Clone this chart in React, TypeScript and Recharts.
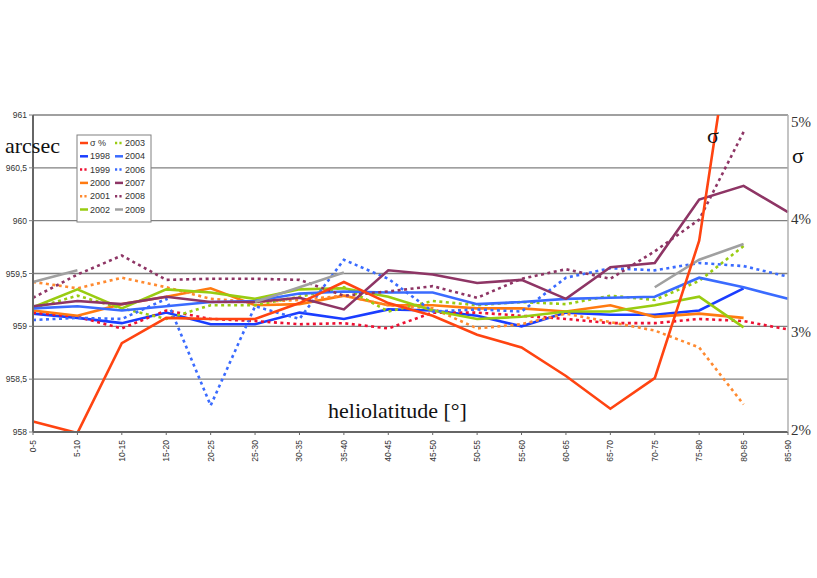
import React from 'react';
import { LineChart, Line, XAxis, YAxis, CartesianGrid } from 'recharts';

const categories = ['0-5', '5-10', '10-15', '15-20', '20-25', '25-30', '30-35', '35-40', '40-45', '45-50', '50-55', '55-60', '60-65', '65-70', '70-75', '75-80', '80-85', '85-90'];

const leftTicks = [958, 958.5, 959, 959.5, 960, 960.5, 961];
const rightTicks = [2, 3, 4, 5];

const sigmaPct = [2.10, 1.99, 2.84, 3.08, 3.07, 3.07, 3.22, 3.42, 3.22, 3.10, 2.92, 2.80, 2.53, 2.22, 2.51, 3.81, 6.6, null];
const y1998 = [959.12, 959.08, 959.03, 959.13, 959.02, 959.02, 959.13, 959.07, 959.16, 959.15, 959.10, 959.00, 959.13, 959.11, 959.11, 959.15, 959.36, null];
const y1999 = [959.13, 959.09, 958.98, 959.15, 959.07, 959.05, 959.02, 959.03, 958.98, 959.13, 959.13, 959.10, 959.07, 959.03, 959.03, 959.07, 959.05, 958.97];
const y2000 = [959.15, 959.10, 959.21, 959.28, 959.36, 959.20, 959.21, 959.29, 959.20, 959.20, 959.17, 959.17, 959.14, 959.20, 959.09, 959.12, 959.08, null];
const y2001 = [959.42, 959.36, 959.46, 959.37, 959.26, 959.23, 959.25, 959.29, 959.20, 959.17, 958.98, 959.02, 959.12, 959.04, 958.96, 958.80, 958.26, null];
const y2002 = [959.18, 959.35, 959.17, 959.35, 959.32, 959.26, 959.35, 959.36, 959.28, 959.15, 959.07, 959.09, 959.14, 959.14, 959.20, 959.28, 958.99, null];
const y2003 = [959.17, 959.29, 959.17, 959.07, 959.20, 959.20, 959.28, 959.37, 959.14, 959.24, 959.20, 959.23, 959.21, 959.29, 959.25, 959.43, 959.76, null];
const y2004 = [959.17, 959.19, 959.15, 959.19, 959.23, 959.24, 959.31, 959.33, 959.32, 959.32, 959.21, 959.23, 959.26, 959.27, 959.28, 959.46, 959.37, 959.26];
const y2006 = [959.06, 959.08, 959.07, 959.26, 958.25, 959.19, 959.07, 959.63, 959.45, 959.14, 959.16, 959.14, 959.46, 959.55, 959.53, 959.60, 959.57, 959.47];
const y2007 = [959.19, 959.24, 959.21, 959.28, 959.23, 959.23, 959.27, 959.16, 959.53, 959.49, 959.41, 959.44, 959.26, 959.56, 959.60, 960.20, 960.33, 960.08];
const y2008 = [959.27, 959.49, 959.67, 959.44, 959.45, 959.45, 959.44, 959.29, 959.33, 959.38, 959.27, 959.45, 959.54, 959.45, 959.71, 960.01, 960.84, null];
const y2009 = [959.42, 959.53, null, null, null, 959.23, 959.37, 959.51, null, null, null, null, null, null, 959.37, 959.63, 959.78, null];

type SeriesDef = { key: string; name: string; values: (number | null)[]; color: string; dotted: boolean; axis: string };

const seriesDefs: SeriesDef[] = [
  { key: 'sigma', name: 'σ %', values: sigmaPct, color: '#ff4411', dotted: false, axis: 'right' },
  { key: 's1998', name: '1998', values: y1998, color: '#1a3dff', dotted: false, axis: 'left' },
  { key: 's1999', name: '1999', values: y1999, color: '#ee1133', dotted: true, axis: 'left' },
  { key: 's2000', name: '2000', values: y2000, color: '#ff7a10', dotted: false, axis: 'left' },
  { key: 's2001', name: '2001', values: y2001, color: '#ff8a30', dotted: true, axis: 'left' },
  { key: 's2002', name: '2002', values: y2002, color: '#99cc11', dotted: false, axis: 'left' },
  { key: 's2003', name: '2003', values: y2003, color: '#99cc11', dotted: true, axis: 'left' },
  { key: 's2004', name: '2004', values: y2004, color: '#3a6bff', dotted: false, axis: 'left' },
  { key: 's2006', name: '2006', values: y2006, color: '#3a6bff', dotted: true, axis: 'left' },
  { key: 's2007', name: '2007', values: y2007, color: '#8e3565', dotted: false, axis: 'left' },
  { key: 's2008', name: '2008', values: y2008, color: '#8e3565', dotted: true, axis: 'left' },
  { key: 's2009', name: '2009', values: y2009, color: '#a0a0a0', dotted: false, axis: 'left' },
];

const data = categories.map((c, i) => {
  const row: any = { cat: c };
  seriesDefs.forEach((s) => {
    row[s.key] = s.values[i];
  });
  return row;
});

const sans = 'Liberation Sans, Arial, sans-serif';
const serif = 'Liberation Serif, Times New Roman, serif';

const XTick = (props: any) => {
  const { x, y, payload } = props;
  return (
    <text
      x={x}
      y={y}
      transform={`rotate(-90 ${x} ${y})`}
      textAnchor="end"
      dominantBaseline="central"
      fontSize={8.5}
      fontFamily={sans}
      fill="#333"
    >
      {payload.value}
    </text>
  );
};

const RightTick = (props: any) => {
  const { y, payload } = props;
  const shift: Record<number, number> = { 5: 7, 4: -2, 3: 6, 2: -2 };
  return (
    <text x={791} y={y + (shift[payload.value] || 0)} dominantBaseline="central" fontSize={15} fontFamily={serif} fill="#333">
      {`${payload.value}%`}
    </text>
  );
};

const LegendBox = () => {
  const col1 = seriesDefs.slice(0, 6);
  const col2 = seriesDefs.slice(6);
  const rowY = (i: number) => 143 + i * 13.3;
  const entry = (s: SeriesDef, i: number, lx: number) => (
    <g key={s.key}>
      <line
        x1={lx}
        x2={lx + 8}
        y1={rowY(i)}
        y2={rowY(i)}
        stroke={s.color}
        strokeWidth={2.5}
        strokeDasharray={s.dotted ? '2.2 2.2' : undefined}
      />
      <text x={lx + 10} y={rowY(i)} dominantBaseline="central" fontSize={9} fontFamily={sans} fill="#333">
        {s.name}
      </text>
    </g>
  );
  return (
    <g>
      <rect x={77} y={135} width={74} height={87} fill="#fff" stroke="#808080" strokeWidth={1} />
      {col1.map((s, i) => entry(s, i, 80))}
      {col2.map((s, i) => entry(s, i, 115))}
    </g>
  );
};

export default function App() {
  return (
    <div style={{ position: 'absolute', left: 0, top: 0, width: 817, height: 578, background: '#fff' }}>
      <LineChart width={817} height={578} data={data} margin={{ top: 115, right: 0, bottom: 106, left: 0 }}>
        <CartesianGrid horizontal vertical={false} stroke="#808080" strokeWidth={1.3} yAxisId="left" />
        <XAxis
          dataKey="cat"
          height={40}
          interval={0}
          tick={<XTick />}
          tickSize={3}
          tickMargin={5}
          axisLine={{ stroke: '#666', strokeWidth: 2 }}
          tickLine={{ stroke: '#666' }}
        />
        <YAxis
          yAxisId="left"
          width={33}
          domain={[958, 961]}
          ticks={leftTicks}
          allowDataOverflow
          tickSize={4}
          tickMargin={2}
          tickFormatter={(v: number) => String(v).replace('.', ',')}
          tick={{ fontSize: 8.5, fontFamily: sans, fill: '#333' }}
          axisLine={{ stroke: '#666', strokeWidth: 2 }}
          tickLine={{ stroke: '#808080' }}
        />
        <YAxis
          yAxisId="right"
          orientation="right"
          width={29}
          domain={[2, 5]}
          ticks={rightTicks}
          allowDataOverflow
          tickLine={false}
          tickSize={0}
          tick={<RightTick />}
          axisLine={{ stroke: '#b0b0b0', strokeWidth: 1.5 }}
        />
        {seriesDefs.slice(1).map((s) => (
          <Line
            key={s.key}
            yAxisId={s.axis}
            type="linear"
            dataKey={s.key}
            name={s.name}
            stroke={s.color}
            strokeWidth={2.6}
            strokeDasharray={s.dotted ? '3 3.5' : undefined}
            dot={false}
            activeDot={false}
            isAnimationActive={false}
          />
        ))}
        <Line
          yAxisId="right"
          type="linear"
          dataKey="sigma"
          name="σ %"
          stroke={seriesDefs[0].color}
          strokeWidth={2.6}
          dot={false}
          activeDot={false}
          isAnimationActive={false}
        />
      </LineChart>
      <svg width={817} height={578} style={{ position: 'absolute', left: 0, top: 0, pointerEvents: 'none' }}>
        <LegendBox />
        <text x={5} y={153} fontSize={22} fontFamily={serif} fill="#111">arcsec</text>
        <text x={328} y={418} fontSize={22} fontFamily={serif} fill="#111">heliolatitude [°]</text>
        <text x={707} y={143} fontSize={22} fontFamily={serif} fill="#111">σ</text>
        <text x={792} y={163} fontSize={22} fontFamily={serif} fill="#111">σ</text>
      </svg>
    </div>
  );
}
